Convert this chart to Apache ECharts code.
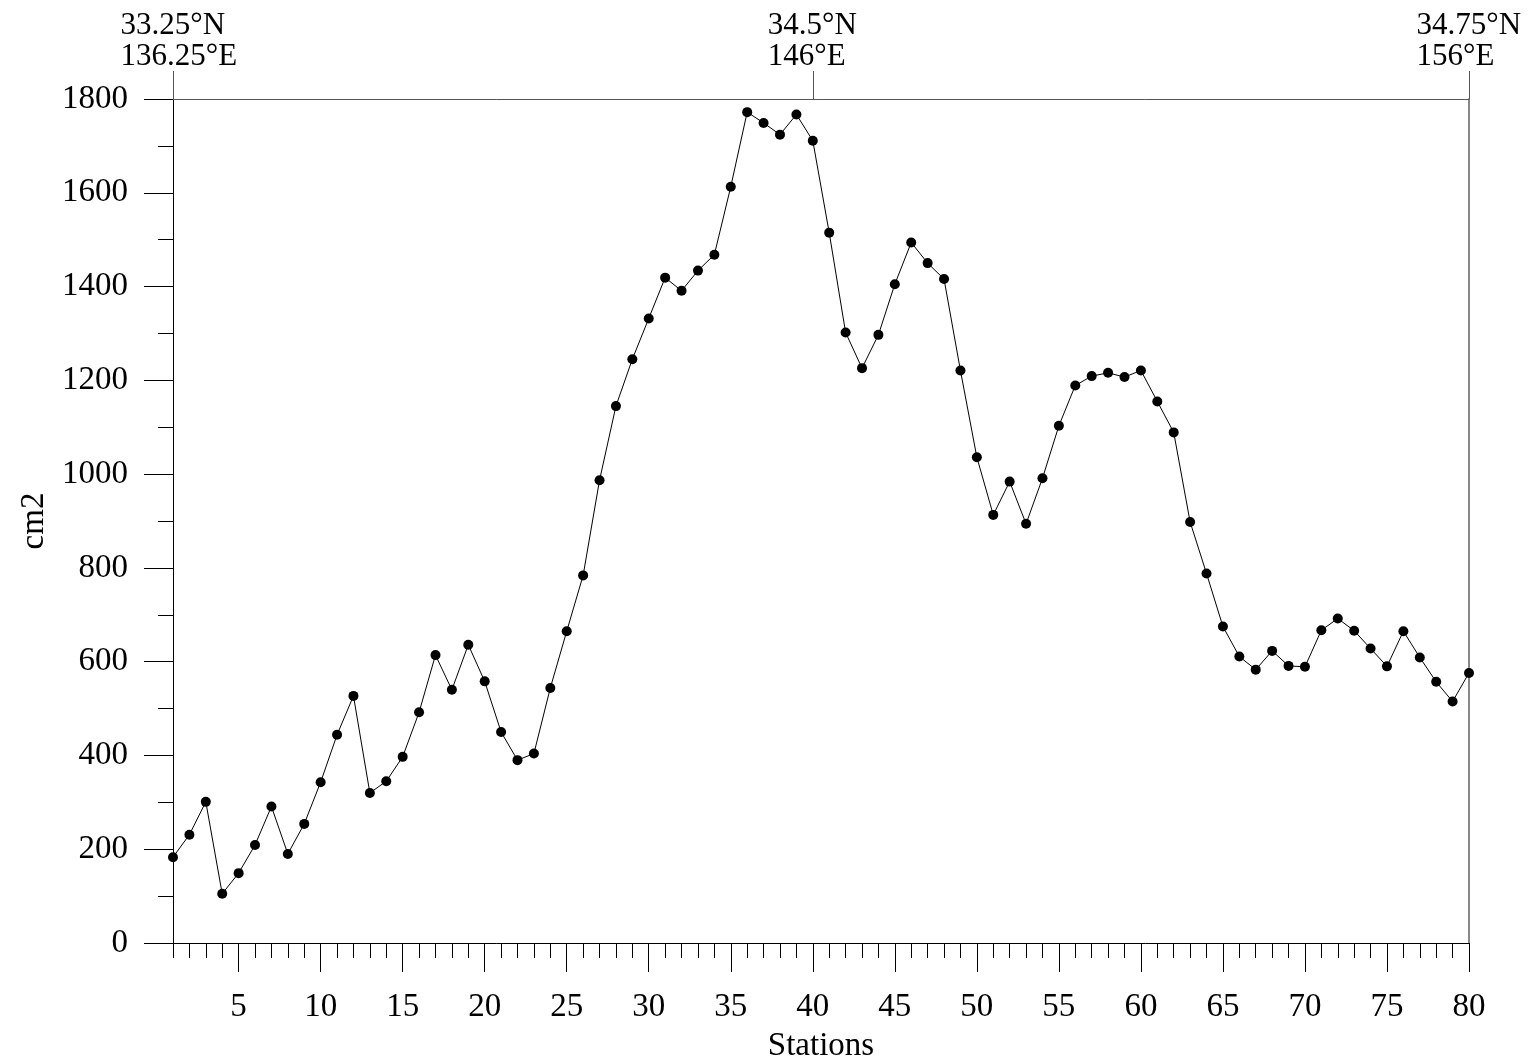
<!DOCTYPE html>
<html>
<head>
<meta charset="utf-8">
<script src="https://cdn.jsdelivr.net/npm/echarts@6/dist/echarts.min.js"></script>
<style>
html,body{margin:0;padding:0;background:#fff;}
#chart{width:1532px;height:1060px;}
</style>
</head>
<body>
<div id="chart"></div>
<script>
const stations = Array.from({length: 80}, (_, i) => String(i + 1));
const values = [183,231,301,105,149,209,291,190,254,343,
  444,527,320,345,397,492,614,540,636,558,
  450,390,404,544,665,784,987,1145,1245,1332,
  1419,1391,1434,1468,1613,1772,1749,1724,1767,1711,
  1515,1302,1226,1297,1405,1494,1450,1416,1221,1036,
  913,984,894,991,1103,1189,1209,1216,1207,1221,
  1155,1089,898,788,675,611,583,623,591,589,
  667,692,666,628,590,665,609,557,515,576];
const topStations = ['1', '40', '80'];
const topLat = ['33.25°N', '34.5°N', '34.75°N'];
const topLon = ['136.25°E', '146°E', '156°E'];
const yTicks = {min: 0, max: 1800, interval: 200};

const FONT = 'Liberation Serif';
const TOP_SIZE = 31;
const chart = echarts.init(document.getElementById('chart'));
const lineStyle = {color: '#000', width: 1};
const majorBottom = (idx) => (idx + 1) % 5 === 0;
const topIdx = (idx) => topStations.indexOf(stations[idx]) >= 0;

// measure first-line widths so the two-line block is centred on its first line
const ctx = document.createElement('canvas').getContext('2d');
ctx.font = TOP_SIZE + 'px "' + FONT + '"';
const rich = {};
topLat.forEach((t, k) => {
  const w = Math.ceil(ctx.measureText(t).width);
  rich['t' + k] = {align: 'left', width: w, fontFamily: FONT, fontSize: TOP_SIZE,
    lineHeight: 31, color: '#000', overflow: 'none'};
});

chart.setOption({
  backgroundColor: '#fff',
  animation: false,
  grid: {left: 173, right: 63, top: 99, bottom: 117, containLabel: false, outerBoundsMode: 'none'},
  xAxis: [
    {
      type: 'category', data: stations, boundaryGap: false, position: 'bottom',
      axisLine: {show: true, lineStyle},
      axisTick: {show: true, interval: 0, length: 15, lineStyle},
      axisLabel: {show: false},
      splitLine: {show: false}
    },
    {
      type: 'category', data: stations, boundaryGap: false, position: 'bottom',
      axisLine: {show: false},
      axisTick: {show: true, interval: majorBottom, length: 29, lineStyle},
      axisLabel: {show: true, interval: majorBottom, margin: 48,
        fontFamily: FONT, fontSize: 33, color: '#000'},
      name: 'Stations', nameLocation: 'middle', nameGap: 87,
      nameTextStyle: {fontFamily: FONT, fontSize: 33, color: '#000'},
      splitLine: {show: false}
    },
    {
      type: 'category', data: stations, boundaryGap: false, position: 'top',
      axisLine: {show: true, lineStyle: {color: '#555', width: 1}},
      axisTick: {show: true, interval: topIdx, length: 28, lineStyle: {color: '#555', width: 1}},
      axisLabel: {
        show: true, interval: topIdx, margin: 27,
        formatter: (v) => {
          const k = topStations.indexOf(v);
          return k < 0 ? '' : '{t' + k + '|' + topLat[k] + '}\n{t' + k + '|' + topLon[k] + '}';
        },
        rich: rich
      },
      splitLine: {show: false}
    }
  ],
  yAxis: [
    {
      type: 'value', min: yTicks.min, max: yTicks.max, interval: yTicks.interval, position: 'left',
      axisLine: {show: true, lineStyle},
      axisTick: {show: true, length: 29, lineStyle},
      minorTick: {show: true, splitNumber: 2, length: 15, lineStyle},
      axisLabel: {margin: 45, fontFamily: FONT, fontSize: 33, color: '#000',
        formatter: (v) => String(v)},
      splitLine: {show: false},
      name: 'cm2', nameLocation: 'middle', nameGap: 111, nameRotate: 90,
      nameTextStyle: {fontFamily: FONT, fontSize: 33, color: '#000'}
    },
    {
      type: 'value', min: yTicks.min, max: yTicks.max, interval: yTicks.interval, position: 'right',
      axisLine: {show: true, lineStyle: {color: '#888', width: 2}},
      axisTick: {show: false}, axisLabel: {show: false}, splitLine: {show: false}
    }
  ],
  series: [{
    type: 'line', data: values, xAxisIndex: 0, yAxisIndex: 0,
    symbol: 'circle', symbolSize: 10, showAllSymbol: true,
    lineStyle: {color: '#000', width: 1},
    itemStyle: {color: '#000'}
  }]
});
</script>
</body>
</html>
